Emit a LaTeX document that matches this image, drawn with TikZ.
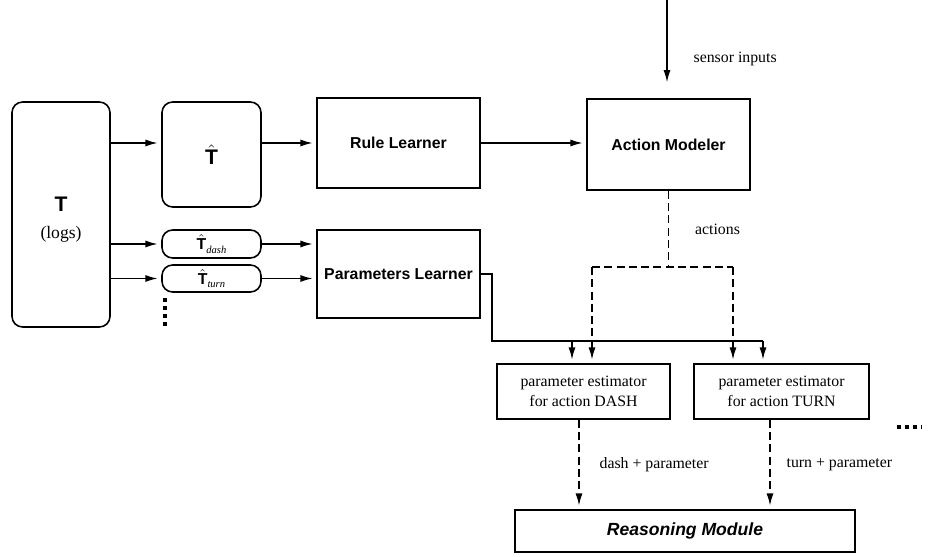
\documentclass[tikz,border=0pt]{standalone}
\usepackage{amsmath}
\usepackage{fontspec}
\setmainfont{Liberation Serif}
\newfontfamily\hfont{Liberation Sans}
\usetikzlibrary{arrows.meta,calc,positioning}

\newcommand{\hatT}{$\hat{\text{\hfont\bfseries T}}$}

\begin{document}
\begin{tikzpicture}[x=0.02cm,y=-0.02cm,
  box/.style={draw,line width=0.9pt,inner sep=0pt,align=center},
  rbox/.style={box,rounded corners=6pt},
  head/.style={font=\hfont\bfseries\fontsize{9}{11}\selectfont},
  lbl/.style={font=\fontsize{9}{11}\selectfont},
  arr/.style={-{Latex[length=7pt,width=4pt]},line width=0.9pt,shorten >=2pt},
  dline/.style={line width=0.9pt,dash pattern=on 4.5pt off 2.5pt},
  darr/.style={arr,dline},
  dots/.style={line width=2.6pt,dash pattern=on 2.4pt off 2.2pt}]
\useasboundingbox (0,0) rectangle (934,557);

%----------learning side-----------------------
\node[rbox,minimum width=1.96cm,minimum height=4.5cm] (logs) at (61,214.5)
    {\\[2pt]{\hfont\bfseries\fontsize{12}{14}\selectfont T}\\[3pt]{\fontsize{10}{12}\selectfont (logs)}};
\node[rbox,minimum width=1.98cm,minimum height=2.1cm,font=\fontsize{12}{14}\selectfont] (hatT) at (211.5,154.5) {\hatT};
\node[rbox,minimum width=1.98cm,minimum height=0.56cm,font=\fontsize{9}{10}\selectfont] (hatdash) at (211.5,244)
    {\hatT\raisebox{-2pt}{\fontsize{6}{6}\selectfont\itshape dash}};
\node[rbox,minimum width=1.98cm,minimum height=0.54cm,font=\fontsize{9}{10}\selectfont] (hatturn) at (211.5,278.5)
    {\hatT\raisebox{-2pt}{\fontsize{6}{6}\selectfont\itshape turn}};
\node[box,head,minimum width=3.26cm,minimum height=1.8cm] (rule) at (398.5,143) {Rule Learner};
\node[box,head,minimum width=3.26cm,minimum height=1.76cm] (param) at (398.5,274) {Parameters Learner};
\draw[dots] (165,298) -- (165,326);

\draw[arr] (logs.east |- rule.west) -- (hatT.west |- rule.west);
\draw[arr] (logs.east |- hatdash.west) -- (hatdash.west);
\draw[arr] (logs.east |- hatturn.west) -- (hatturn.west);
\draw[arr] (hatT.east |- rule.west) -- (rule.west);
\draw[arr] (hatdash.east) -- (hatdash.east -| param.west);
\draw[arr] (hatturn.east) -- (hatturn.east -| param.west);

%----------acting side-------------------------
\node[box,head,minimum width=3.26cm,minimum height=1.82cm] (action) at (668.5,144.5) {Action Modeler};
\coordinate (sensor) at (667,0);
\draw[arr,shorten >=9pt] (sensor) -- node[lbl,anchor=west,pos=0.6,xshift=0.4cm] {sensor inputs} (sensor |- action.north);
\draw[arr] (rule.east) -- (rule.east -| action.west);

\node[box,lbl,minimum width=3.46cm,minimum height=1.1cm] (estdash) at (583.5,391.5) {parameter estimator\\for action DASH};
\node[box,lbl,minimum width=3.5cm,minimum height=1.1cm] (estturn) at (781.5,391.5) {parameter estimator\\for action TURN};
\draw[dots] (897,427) -- (922,427);

%----------actions (dashed)--------------------
\coordinate (split) at (action.south |- 0,267);
\coordinate (dl) at (592,267);
\coordinate (dr) at (733,267);
\draw[dline] (action.south) -- node[lbl,anchor=west,xshift=0.4cm] {actions} (split);
\draw[dline] (dl) -- (dr);
\draw[darr] (dl) -- (dl |- estdash.north);
\draw[darr] (dr) -- (dr |- estturn.north);

%----------parameters (solid)------------------
\coordinate (bus) at (492,341);
\coordinate (busdash) at (572,341);
\coordinate (busturn) at (763,341);
\draw[line width=0.9pt] (param.east) -| (bus) -- (busturn);
\draw[arr] (busdash) -- (busdash |- estdash.north);
\draw[arr] (busturn) -- (busturn |- estturn.north);

%----------reasoning---------------------------
\node[box,minimum width=6.8cm,minimum height=0.84cm,font=\hfont\bfseries\itshape\fontsize{10}{12}\selectfont] (reason) at (685,531) {Reasoning Module};
\draw[darr] ($(estdash.south)+(-4.5,0)$) -- node[lbl,anchor=west,xshift=0.28cm] {dash + parameter} ($(estdash.south |- reason.north)+(-4.5,0)$);
\draw[darr] ($(estturn.south)+(-11.5,0)$) -- node[lbl,anchor=west,xshift=0.2cm] {turn + parameter} ($(estturn.south |- reason.north)+(-11.5,0)$);
\end{tikzpicture}
\end{document}
